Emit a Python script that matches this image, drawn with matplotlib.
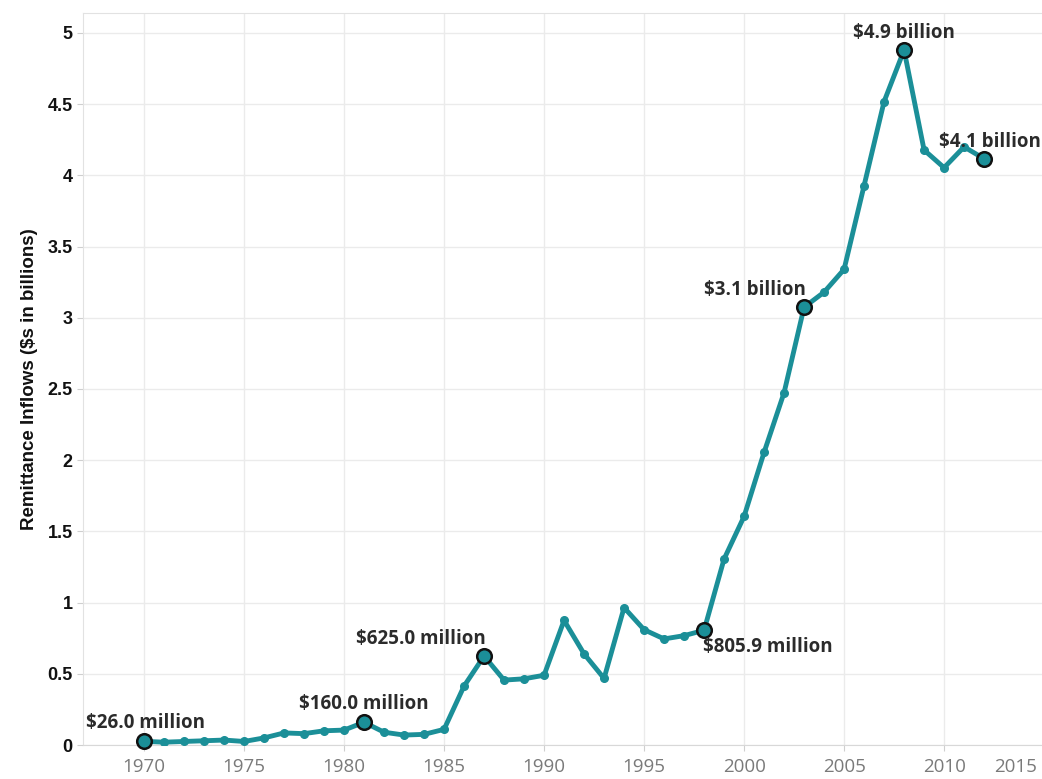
import matplotlib
matplotlib.use("Agg")
import matplotlib.pyplot as plt
from matplotlib.transforms import ScaledTranslation

years = list(range(1970, 2013))
values = [0.026, 0.020, 0.025, 0.030, 0.035, 0.025, 0.050, 0.085, 0.080, 0.100,
          0.105, 0.160, 0.090, 0.070, 0.075, 0.110, 0.414, 0.625, 0.456, 0.465,
          0.490, 0.875, 0.640, 0.468, 0.965, 0.810, 0.745, 0.768, 0.8059, 1.306,
          1.605, 2.055, 2.474, 3.074, 3.18, 3.34, 3.928, 4.518, 4.88, 4.178,
          4.054, 4.20, 4.117]

label_years = [1970, 1981, 1987, 1998, 2003, 2008, 2012]
label_texts = ["$26.0 million", "$160.0 million", "$625.0 million", "$805.9 million",
               "$3.1 billion", "$4.9 billion", "$4.1 billion"]
# offsets (points) and alignment for each label
label_offsets = [(1, 6), (0, 6), (1, 5), (-1, -5), (1, 5), (0, 5), (4, 5)]
label_ha = ["center", "center", "right", "left", "right", "center", "center"]
label_va = ["bottom", "bottom", "bottom", "top", "bottom", "bottom", "bottom"]

xticks = [1970, 1975, 1980, 1985, 1990, 1995, 2000, 2005, 2010, 2015]
yticks = [0, 0.5, 1, 1.5, 2, 2.5, 3, 3.5, 4, 4.5, 5]
ytick_labels = ["0", "0.5", "1", "1.5", "2", "2.5", "3", "3.5", "4", "4.5", "5"]

teal = "#1b8f98"

fig = plt.figure(figsize=(10.42, 7.79), dpi=100)
ax = fig.add_axes([0.0797, 0.0436, 0.9223, 0.9397])

ax.plot(years, values, color=teal, lw=3.5, marker="o", ms=5.5, mfc=teal, mec=teal,
        zorder=3, solid_joinstyle="round")

for yr, txt, off, ha, va in zip(label_years, label_texts, label_offsets, label_ha, label_va):
    v = values[years.index(yr)]
    ax.plot([yr], [v], marker="o", ms=10.5, mfc=teal, mec="#111111", mew=1.8, zorder=4,
            clip_on=False)
    ax.annotate(txt, (yr, v), xytext=off, textcoords="offset points", ha=ha, va=va,
                fontsize=13.5, fontweight="bold", family="Open Sans", color="#2b2b2b",
                zorder=5)

ax.set_xlim(1966.95, 2015.0)
ax.set_ylim(0, 5.14)
ax.set_xticks(xticks)
ax.set_xticklabels([str(x) for x in xticks], fontsize=13.5, family="Open Sans", color="#7a7a7a")
ax.set_yticks(yticks)
ax.set_yticklabels(ytick_labels, fontsize=13, fontweight="bold", family="Liberation Sans",
                   color="#111111")
ax.tick_params(axis="x", length=4.5, width=0.8, color="#cfcfcf", pad=5)
ax.tick_params(axis="y", length=4.5, width=0.8, color="#cfcfcf", pad=3)

# last x tick label sits inside the figure edge, as in the source
last = ax.get_xticklabels()[-1]
last.set_horizontalalignment("right")
last.set_transform(last.get_transform() + ScaledTranslation(-5 / 72, 0, fig.dpi_scale_trans))

ax.grid(True, color="#ebebeb", lw=1)
ax.set_axisbelow(True)
for side in ["top", "left"]:
    ax.spines[side].set_color("#e2e2e2")
ax.spines["right"].set_visible(False)
ax.spines["bottom"].set_color("#d8d8d8")

ax.set_ylabel("Remittance Inflows ($s in billions)", fontsize=13.5, fontweight="bold",
              family="Liberation Sans", color="#111111", labelpad=7)

fig.savefig("out.png", dpi=100, facecolor="white")
